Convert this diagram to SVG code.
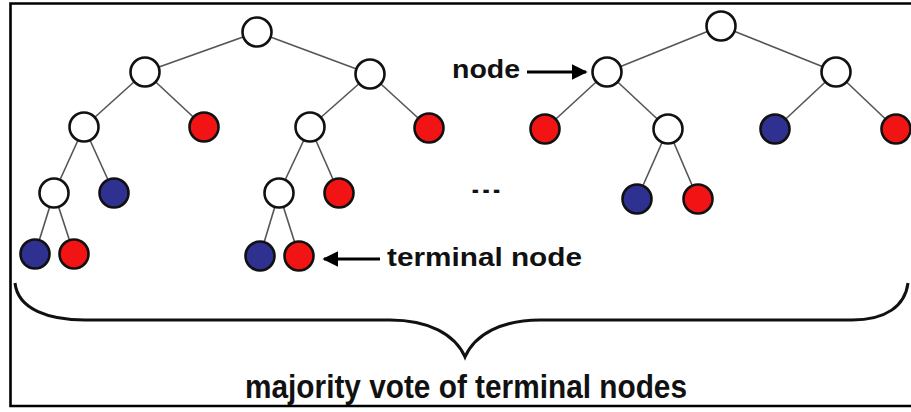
<svg xmlns="http://www.w3.org/2000/svg" width="911" height="412" viewBox="0 0 911 412">
  <style>
    .edge { stroke: #555; stroke-width: 1.6; fill: none; }
    .n { stroke: #111; stroke-width: 2.6; }
    .inner { fill: #fff; }
    .red { fill: #f21414; }
    .blue { fill: #2f3190; }
    .lbl { font-family: "Liberation Sans", Arial, sans-serif; font-weight: bold; fill: #111; }
    .ptr { stroke: #000; stroke-width: 3.2; fill: none; }
  </style>
  <defs>
    <marker id="head" viewBox="0 0 10 10" refX="9" refY="5" markerWidth="5" markerHeight="5" orient="auto" markerUnits="strokeWidth">
      <path d="M0,0 L10,5 L0,10 Z" fill="#000"/>
    </marker>
  </defs>

  <rect width="911" height="412" fill="#fff"/>
  <!-- frame: open on the right -->
  <path d="M911,3.5 H10.5 V406 H911" fill="none" stroke="#000" stroke-width="2.6"/>

  <g id="connectors">
    <!-- tree 1 -->
    <line class="edge" x1="257" y1="32" x2="145" y2="72"/>
    <line class="edge" x1="257" y1="32" x2="370" y2="74"/>
    <line class="edge" x1="145" y1="72" x2="84" y2="127"/>
    <line class="edge" x1="145" y1="72" x2="204" y2="127"/>
    <line class="edge" x1="370" y1="74" x2="310" y2="127"/>
    <line class="edge" x1="370" y1="74" x2="429" y2="128"/>
    <line class="edge" x1="84" y1="127" x2="54" y2="193"/>
    <line class="edge" x1="84" y1="127" x2="114" y2="193"/>
    <line class="edge" x1="310" y1="127" x2="279" y2="193"/>
    <line class="edge" x1="310" y1="127" x2="339" y2="193"/>
    <line class="edge" x1="54" y1="193" x2="35" y2="254"/>
    <line class="edge" x1="54" y1="193" x2="74" y2="254"/>
    <line class="edge" x1="279" y1="193" x2="260" y2="256"/>
    <line class="edge" x1="279" y1="193" x2="299" y2="256"/>
    <!-- tree 2 -->
    <line class="edge" x1="721" y1="26" x2="607" y2="72"/>
    <line class="edge" x1="721" y1="26" x2="836" y2="72"/>
    <line class="edge" x1="607" y1="72" x2="545" y2="129"/>
    <line class="edge" x1="607" y1="72" x2="668" y2="129"/>
    <line class="edge" x1="836" y1="72" x2="775" y2="129"/>
    <line class="edge" x1="836" y1="72" x2="896" y2="129"/>
    <line class="edge" x1="668" y1="129" x2="637" y2="199"/>
    <line class="edge" x1="668" y1="129" x2="698" y2="199"/>
    <!-- pointers -->
    <line class="ptr" x1="527" y1="72" x2="586" y2="72" marker-end="url(#head)"/>
    <line class="ptr" x1="380" y1="259" x2="324" y2="259" marker-end="url(#head)"/>
    <!-- brace -->
    <path d="M15,283 C18,310 50,320 85,320 H390 C428,320 455,334 465,357 C475,334 502,320 540,320 H852 C886,320 905,306 908,283" fill="none" stroke="#111" stroke-width="3"/>
  </g>

  <!-- tree 1 -->
  <g id="t1-root"><circle class="n inner" cx="257" cy="32" r="14.5"/></g>
  <g id="t1-a"><circle class="n inner" cx="145" cy="72" r="14.5"/></g>
  <g id="t1-b"><circle class="n inner" cx="370" cy="74" r="14.5"/></g>
  <g id="t1-aa"><circle class="n inner" cx="84" cy="127" r="14.5"/></g>
  <g id="t1-ab"><circle class="n red" cx="204" cy="127" r="14.5"/></g>
  <g id="t1-ba"><circle class="n inner" cx="310" cy="127" r="14.5"/></g>
  <g id="t1-bb"><circle class="n red" cx="429" cy="128" r="14.5"/></g>
  <g id="t1-aaa"><circle class="n inner" cx="54" cy="193" r="14.5"/></g>
  <g id="t1-aab"><circle class="n blue" cx="114" cy="193" r="14.5"/></g>
  <g id="t1-baa"><circle class="n inner" cx="279" cy="193" r="14.5"/></g>
  <g id="t1-bab"><circle class="n red" cx="339" cy="193" r="14.5"/></g>
  <g id="t1-aaaa"><circle class="n blue" cx="35" cy="254" r="14.5"/></g>
  <g id="t1-aaab"><circle class="n red" cx="74" cy="254" r="14.5"/></g>
  <g id="t1-baaa"><circle class="n blue" cx="260" cy="256" r="14.5"/></g>
  <g id="t1-baab"><circle class="n red" cx="299" cy="256" r="14.5"/></g>

  <!-- tree 2 -->
  <g id="t2-root"><circle class="n inner" cx="721" cy="26" r="14.5"/></g>
  <g id="t2-a"><circle class="n inner" cx="607" cy="72" r="14.5"/></g>
  <g id="t2-b"><circle class="n inner" cx="836" cy="72" r="14.5"/></g>
  <g id="t2-aa"><circle class="n red" cx="545" cy="129" r="14.5"/></g>
  <g id="t2-ab"><circle class="n inner" cx="668" cy="129" r="14.5"/></g>
  <g id="t2-ba"><circle class="n blue" cx="775" cy="129" r="14.5"/></g>
  <g id="t2-bb"><circle class="n red" cx="896" cy="129" r="14.5"/></g>
  <g id="t2-aba"><circle class="n blue" cx="637" cy="199" r="14.5"/></g>
  <g id="t2-abb"><circle class="n red" cx="698" cy="199" r="14.5"/></g>

  <!-- labels -->
  <g id="label-node">
    <text class="lbl" x="452" y="78" font-size="25" textLength="68" lengthAdjust="spacingAndGlyphs">node</text>
  </g>
  <g id="label-terminal">
    <text class="lbl" x="387" y="266" font-size="25" textLength="195" lengthAdjust="spacingAndGlyphs">terminal node</text>
  </g>
  <g id="ellipsis">
    <text class="lbl" x="470" y="193" font-size="22" textLength="32" lengthAdjust="spacingAndGlyphs">...</text>
  </g>
  <g id="label-vote">
    <text class="lbl" x="245" y="398" font-size="33" textLength="442" lengthAdjust="spacingAndGlyphs">majority vote of terminal nodes</text>
  </g>
</svg>
